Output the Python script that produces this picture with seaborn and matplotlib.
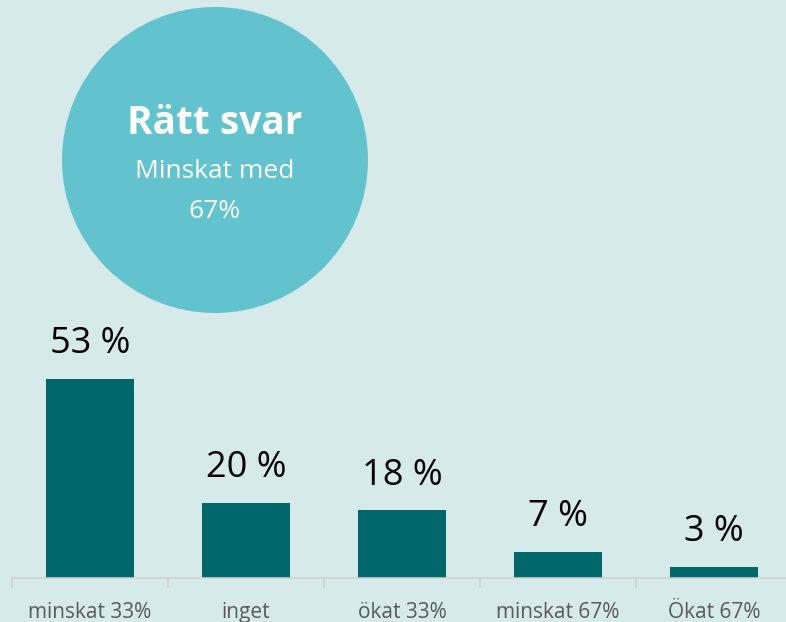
import matplotlib
matplotlib.use("Agg")
import matplotlib.pyplot as plt
import seaborn as sns
import pandas as pd
from matplotlib.patches import Ellipse

categories = ["minskat 33%", "inget", "ökat 33%", "minskat 67%", "Ökat 67%"]
values = [53, 20, 18, 7, 3]
value_labels = ["53 %", "20 %", "18 %", "7 %", "3 %"]
answer_title = "Rätt svar"
answer_line1 = "Minskat med"
answer_line2 = "67%"

BG = "#D6EAEA"
BAR = "#00676A"
CIRCLE = "#62C3CE"

sns.set_theme(style="white")
plt.rcParams["font.family"] = ["Open Sans", "DejaVu Sans"]

W, H = 786, 622
fig = plt.figure(figsize=(W / 100, H / 100), dpi=100)
fig.patch.set_facecolor(BG)

ax = fig.add_axes([12 / W, 44 / H, 780 / W, 278 / H])
ax.set_facecolor(BG)

df = pd.DataFrame({"cat": categories, "val": values})
sns.barplot(data=df, x="cat", y="val", color=BAR, width=0.565, saturation=1,
            linewidth=0, edgecolor="none", ax=ax)

ax.set_xlim(-0.5, 4.5)
ax.set_ylim(0, 74.1)
for i, (v, lab) in enumerate(zip(values, value_labels)):
    ax.annotate(lab, (i, v), xytext=(0, 12), textcoords="offset points",
                ha="center", va="bottom", fontsize=26, color="black")

ax.set_xlabel("")
ax.set_ylabel("")
ax.set_yticks([])
ax.set_xticks([-0.5, 0.5, 1.5, 2.5, 3.5, 4.5], minor=False)
ax.set_xticklabels([])
ax.set_xticks(range(len(categories)), minor=True)
ax.set_xticklabels(categories, minor=True)
ax.tick_params(axis="x", which="major", length=7, color="#D0D0D0", width=1.2, bottom=True)
ax.tick_params(axis="x", which="minor", length=0, pad=17, labelsize=15, labelcolor="#595959")
for s in ["top", "right", "left"]:
    ax.spines[s].set_visible(False)
ax.spines["bottom"].set_color("#D0D0D0")
ax.spines["bottom"].set_linewidth(1.2)

# circle
cx, cy, r = 215, 160, 153
fig.patches.append(Ellipse((cx / W, 1 - cy / H), 2 * r / W, 2 * r / H,
                           transform=fig.transFigure, facecolor=CIRCLE,
                           edgecolor="none", zorder=0))
fig.text(cx / W, 1 - 124 / H, answer_title, ha="center", va="center",
         fontsize=28, fontweight="bold", color="white")
fig.text(cx / W, 1 - 172 / H, answer_line1, ha="center", va="center",
         fontsize=19, color="white")
fig.text(cx / W, 1 - 211 / H, answer_line2, ha="center", va="center",
         fontsize=19, color="white")

fig.savefig("out.png", dpi=100, facecolor=BG)
